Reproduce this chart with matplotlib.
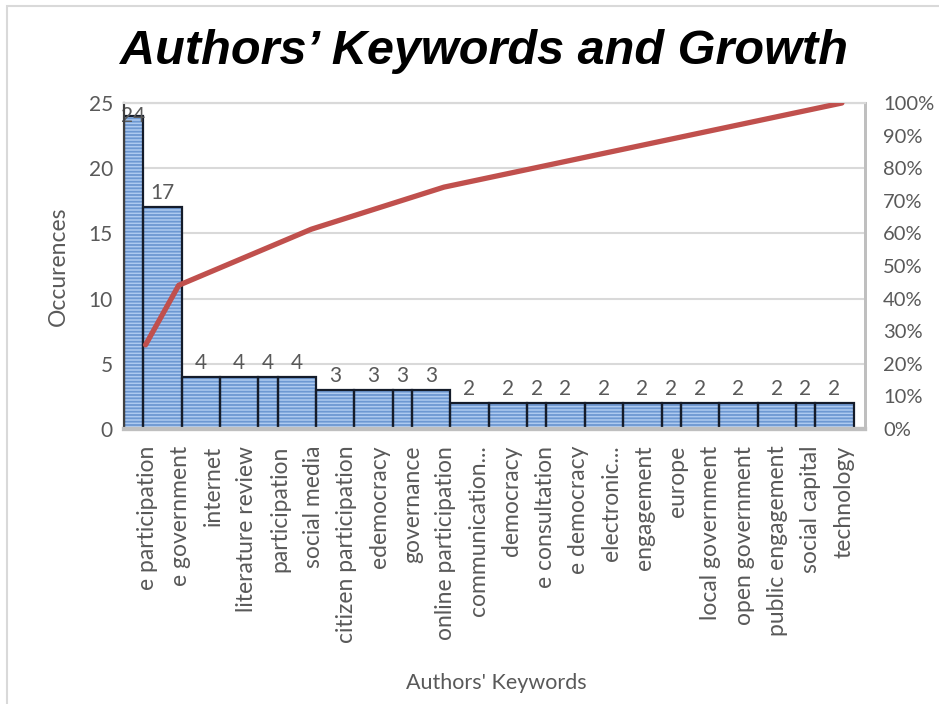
import numpy as np
import matplotlib
matplotlib.use("Agg")
import matplotlib.pyplot as plt
from matplotlib.patches import Rectangle
from matplotlib.ticker import FuncFormatter, MultipleLocator

keywords = [
    "e participation", "e government", "internet", "literature review",
    "participation", "social media", "citizen participation", "edemocracy",
    "governance", "online participation", "communication...", "democracy",
    "e consultation", "e democracy", "electronic...", "engagement", "europe",
    "local government", "open government", "public engagement",
    "social capital", "technology",
]
occurrences = [24, 17, 4, 4, 4, 4, 3, 3, 3, 3,
               2, 2, 2, 2, 2, 2, 2, 2, 2, 2, 2, 2]

TEXT_GREY = "#595959"
BAR_FILL = "#AECAF0"
BAR_STRIPE = "#6D98D2"
LINE_RED = "#C0504D"
GRID_GREY = "#D9D9D9"

plt.rcParams["font.family"] = ["Lato", "DejaVu Sans"]
plt.rcParams["hatch.linewidth"] = 1.3

counts = np.array(occurrences, dtype=float)
cum_pct = np.cumsum(counts) / counts.sum()
n = len(counts)
centers = np.arange(n) + 0.65

# bar widths alternate in a narrow/wide rhythm, stretched to fill n slots
rhythm = np.array([0.5, 1.0, 1.0, 1.0])
widths = np.resize(rhythm, n)
widths = widths * n / widths.sum()
lefts = np.concatenate([[0], np.cumsum(widths)[:-1]])

fig = plt.figure(figsize=(9.39, 7.04), dpi=100)
ax = fig.add_axes([124 / 939, 1 - 429 / 704, 741 / 939, 326 / 704])
ax2 = ax.twinx()

ax.set_ylim(0, 25)
ax.set_xlim(0, n * 741 / 729.5)
ax2.set_ylim(0, 1)

ax.yaxis.grid(True, color=GRID_GREY, linewidth=1.5)
ax.set_axisbelow(True)

# striped fill first, then dark outlines on top
ax.bar(lefts, counts, width=widths, align="edge", color=BAR_FILL,
       edgecolor=BAR_STRIPE, linewidth=0, hatch="-----", zorder=2)
ax.bar(lefts, counts, width=widths, align="edge", fill=False,
       edgecolor="#151c2a", linewidth=1.6, zorder=3)

top = ax.get_ylim()[1]
for x, w, v in zip(lefts, widths, counts):
    off = 0 if v >= top - 1.5 else 14
    ax.annotate(f"{int(v)}", (x + w / 2, v), xytext=(0, off),
                textcoords="offset pixels", ha="center", va="center",
                fontsize=15, color=TEXT_GREY, zorder=5)

ax2.plot(centers, cum_pct, color=LINE_RED, linewidth=3.8,
         solid_capstyle="round", solid_joinstyle="round", zorder=4)

ax.set_xticks(centers + 0.05)
ax.set_xticklabels(keywords, rotation=90, fontsize=16.5, color=TEXT_GREY)
ax.tick_params(axis="x", length=0, pad=12)
ax.yaxis.set_major_locator(MultipleLocator(5))
ax.tick_params(axis="y", length=0, pad=8, labelsize=15, labelcolor=TEXT_GREY)

ax2.yaxis.set_major_locator(MultipleLocator(0.1))
ax2.yaxis.set_major_formatter(FuncFormatter(lambda v, p: f"{v * 100:.0f}%"))
ax2.tick_params(axis="y", length=0, pad=13, labelsize=14.5,
                labelcolor=TEXT_GREY)

for a in (ax, ax2):
    a.spines["top"].set_color(GRID_GREY)
    a.spines["top"].set_linewidth(1.5)
    a.spines["right"].set_color("#BFBFBF")
    a.spines["right"].set_linewidth(2)
    a.spines["bottom"].set_color("#BFBFBF")
    a.spines["bottom"].set_linewidth(3)
    a.spines["left"].set_color("#404040")
    a.spines["left"].set_linewidth(1.5)

ax.set_ylabel("Occurences", fontsize=16.5, color=TEXT_GREY, labelpad=14)
fig.text(496 / 939, 1 - 683 / 704, "Authors' Keywords", ha="center",
         va="center", fontsize=15.5, color=TEXT_GREY)

fig.text(484 / 939, 1 - 51 / 704, "Authors\u2019 Keywords and Growth",
         ha="center", va="center", fontsize=35, fontweight="bold",
         fontstyle="italic", family=["Liberation Sans", "DejaVu Sans"])

# thin frame around the chart area
fig.patches.append(Rectangle((7 / 939, -0.1), 1.2, 1 - 6 / 704 + 0.1,
                             transform=fig.transFigure, fill=False,
                             edgecolor="#D9D9D9", linewidth=1.5))

fig.savefig("out.png", dpi=100, facecolor="white")
